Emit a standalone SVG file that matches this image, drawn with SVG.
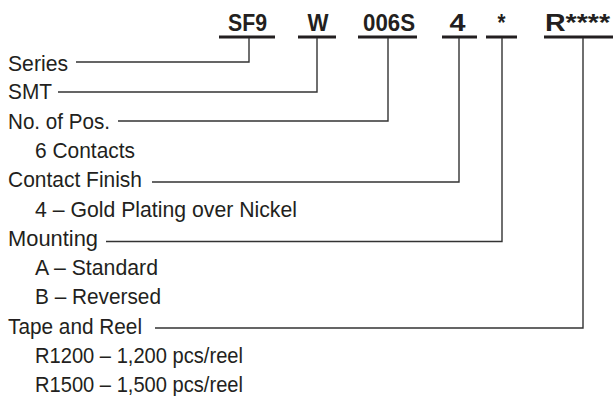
<svg xmlns="http://www.w3.org/2000/svg" width="613" height="396" viewBox="0 0 613 396">
<style>
.code{font-family:"Liberation Sans",Arial,sans-serif;font-weight:bold;font-size:24.5px;fill:#231f20;text-anchor:middle}
.lbl{font-family:"Liberation Sans",Arial,sans-serif;font-size:22.5px;fill:#231f20}
.ul{stroke:#231f20;stroke-width:3;fill:none}
.con{stroke:#333;stroke-width:1.4;fill:none}
</style>
<rect width="613" height="396" fill="#fff"/>
<g id="code-sf9"><text class="code" x="247.5" y="31" textLength="39" lengthAdjust="spacingAndGlyphs">SF9</text><line class="ul" x1="219" y1="37" x2="275" y2="37"/></g>
<g id="code-w"><text class="code" x="318" y="31" textLength="21" lengthAdjust="spacingAndGlyphs">W</text><line class="ul" x1="298" y1="37" x2="336" y2="37"/></g>
<g id="code-006s"><text class="code" x="389" y="31" textLength="52" lengthAdjust="spacingAndGlyphs">006S</text><line class="ul" x1="358" y1="37" x2="417" y2="37"/></g>
<g id="code-4"><text class="code" x="457.5" y="31" textLength="16" lengthAdjust="spacingAndGlyphs">4</text><line class="ul" x1="442" y1="37" x2="477" y2="37"/></g>
<g id="code-star"><text class="code" x="501.5" y="31" textLength="8" lengthAdjust="spacingAndGlyphs">*</text><line class="ul" x1="486" y1="37" x2="517" y2="37"/></g>
<g id="code-r"><text class="code" x="577.5" y="31" textLength="65" lengthAdjust="spacingAndGlyphs">R****</text><line class="ul" x1="544" y1="37" x2="613" y2="37"/></g>
<g id="lbl-series"><text class="lbl" x="8" y="70.7" textLength="60" lengthAdjust="spacingAndGlyphs">Series</text></g>
<g id="lbl-smt"><text class="lbl" x="8" y="99.3" textLength="44" lengthAdjust="spacingAndGlyphs">SMT</text></g>
<g id="lbl-pos"><text class="lbl" x="8" y="128.6" textLength="102" lengthAdjust="spacingAndGlyphs">No. of Pos.</text><text class="lbl" x="35" y="157.9" textLength="100" lengthAdjust="spacingAndGlyphs">6 Contacts</text></g>
<g id="lbl-finish"><text class="lbl" x="8" y="187.2" textLength="134" lengthAdjust="spacingAndGlyphs">Contact Finish</text><text class="lbl" x="35" y="216.5" textLength="262" lengthAdjust="spacingAndGlyphs">4 – Gold Plating over Nickel</text></g>
<g id="lbl-mount"><text class="lbl" x="8" y="245.8" textLength="90" lengthAdjust="spacingAndGlyphs">Mounting</text><text class="lbl" x="35" y="275.1" textLength="123" lengthAdjust="spacingAndGlyphs">A – Standard</text><text class="lbl" x="35" y="304.4" textLength="126" lengthAdjust="spacingAndGlyphs">B – Reversed</text></g>
<g id="lbl-tape"><text class="lbl" x="8" y="333.7" textLength="134" lengthAdjust="spacingAndGlyphs">Tape and Reel</text><text class="lbl" x="35" y="363" textLength="208" lengthAdjust="spacingAndGlyphs">R1200 – 1,200 pcs/reel</text><text class="lbl" x="35" y="392.3" textLength="208" lengthAdjust="spacingAndGlyphs">R1500 – 1,500 pcs/reel</text></g>
<g id="connectors">
<path class="con" d="M76 62H249V38"/>
<path class="con" d="M58 92H317V38"/>
<path class="con" d="M118 121H388V38"/>
<path class="con" d="M152 182H459V38"/>
<path class="con" d="M106 241.5H502V38"/>
<path class="con" d="M155 328H583V38"/>
</g>
</svg>
